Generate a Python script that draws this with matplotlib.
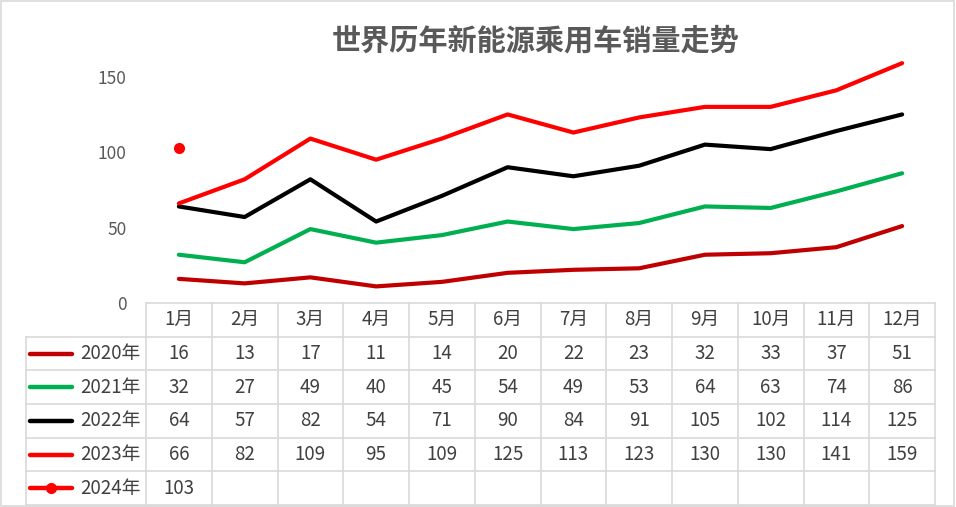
import matplotlib.pyplot as plt
from matplotlib.lines import Line2D
from matplotlib.patches import Rectangle

plt.rcParams['font.family'] = ['Noto Sans CJK SC', 'DejaVu Sans']

months = ['1月', '2月', '3月', '4月', '5月', '6月', '7月', '8月', '9月', '10月', '11月', '12月']
years = ['2020年', '2021年', '2022年', '2023年', '2024年']
y2020 = [16, 13, 17, 11, 14, 20, 22, 23, 32, 33, 37, 51]
y2021 = [32, 27, 49, 40, 45, 54, 49, 53, 64, 63, 74, 86]
y2022 = [64, 57, 82, 54, 71, 90, 84, 91, 105, 102, 114, 125]
y2023 = [66, 82, 109, 95, 109, 125, 113, 123, 130, 130, 141, 159]
y2024 = [103]

series = [y2020, y2021, y2022, y2023, y2024]
colors = ['#C00000', '#00B050', '#000000', '#FF0000', '#FF0000']

W, H = 956, 507
fig = plt.figure(figsize=(W / 100, H / 100), dpi=100)

# chart border
fig.patches.append(Rectangle((0.001, 0.002), 0.997, 0.996, transform=fig.transFigure,
                             fill=False, edgecolor='#d9d9d9', linewidth=1.2))

# plot area
x0, x1 = 146, 935
ax = fig.add_axes([x0 / W, 1 - 303 / H, (x1 - x0) / W, (303 - 39) / H])
for s, c in zip(series, colors):
    xs = [i + 0.5 for i in range(len(s))]
    if len(s) == 1:
        ax.plot(xs, s, 'o', color=c, markersize=7)
    else:
        ax.plot(xs, s, color=c, linewidth=3, solid_capstyle='round')
ax.set_xlim(0, 12)
ax.set_ylim(0, 175)
ax.set_yticks([0, 50, 100, 150])
ax.set_xticks([])
ax.tick_params(axis='y', length=0, pad=14, labelsize=12.5, labelcolor='#595959')
for sp in ax.spines.values():
    sp.set_visible(False)

# data table
lx = 26
lab_w = (x0 - lx) / ((x1 - x0) / 12)
tb = fig.add_axes([lx / W, 1 - 505 / H, (x1 - lx) / W, (505 - 303) / H])
tb.set_xlim(-lab_w, 12)
tb.set_ylim(6, 0)
tb.axis('off')
gc = '#d9d9d9'
tb.plot([0, 12], [0, 0], color=gc, lw=1.2, clip_on=False)
for r in range(1, 7):
    tb.plot([-lab_w, 12], [r, r], color=gc, lw=1.2, clip_on=False)
for c in range(13):
    tb.plot([c, c], [0, 6], color=gc, lw=1.2, clip_on=False)
tb.plot([-lab_w, -lab_w], [1, 6], color=gc, lw=1.2, clip_on=False)

tc = '#404040'
fs = 13.5
for i, m in enumerate(months):
    tb.text(i + 0.5, 0.5, m, ha='center', va='center', fontsize=fs, color=tc)
for r, (yr, s, c) in enumerate(zip(years, series, colors)):
    yy = r + 1.5
    tb.text(-0.08, yy, yr, ha='right', va='center', fontsize=fs, color=tc)
    tb.add_line(Line2D([-lab_w + 0.06, -lab_w + 0.7], [yy, yy], color=c, lw=3.2,
                       solid_capstyle='round'))
    if len(s) == 1:
        tb.plot([-lab_w + 0.38], [yy], 'o', color=c, markersize=7)
    for i, v in enumerate(s):
        tb.text(i + 0.5, yy, str(v), ha='center', va='center', fontsize=fs, color=tc)

fig.text(536 / W, 1 - 40 / H, '世界历年新能源乘用车销量走势', ha='center', va='center',
         fontsize=21, fontweight='bold', color='#595959')

fig.savefig('out.png', dpi=100)
